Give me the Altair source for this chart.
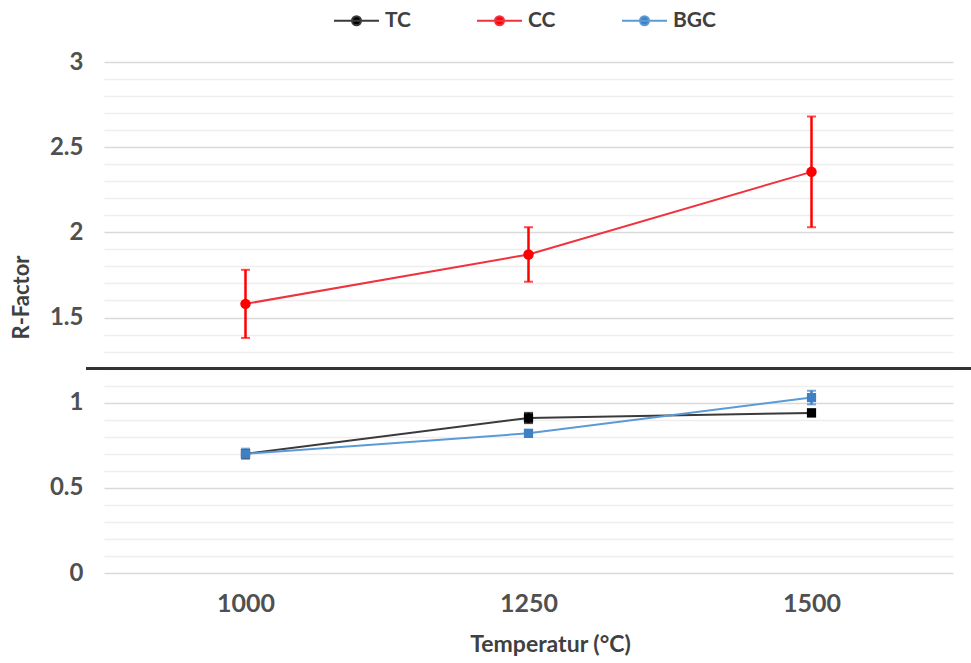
import altair as alt
import pandas as pd

temps = ["1000", "1250", "1500"]
series = ["TC", "CC", "BGC"]
tc_mean = [0.70, 0.91, 0.94]
tc_err = [0.02, 0.03, 0.02]
cc_mean = [1.58, 1.87, 2.355]
cc_err = [0.20, 0.16, 0.325]
bgc_mean = [0.70, 0.82, 1.03]
bgc_err = [0.03, 0.02, 0.04]
separator = [1.2]
grid_values = [round(i * 0.1, 1) for i in range(31)]

line_colors = ["#3a3a3a", "#f0323e", "#5b9bd5"]
point_colors = ["#000000", "#ff0000", "#3f7fc4"]

rows = []
for name, means, errs in zip(series, [tc_mean, cc_mean, bgc_mean], [tc_err, cc_err, bgc_err]):
    for t, m, e in zip(temps, means, errs):
        rows.append({"Temp": t, "Series": name, "R": m, "lo": m - e, "hi": m + e})
df = pd.DataFrame(rows)

W, H = 849, 511
FONT = "Lato"
is_major = "abs(datum.value * 2 - round(datum.value * 2)) < 0.001"

legend_path = "M-1,0H1M-0.2,0A0.2,0.2 0 1,0 0.2,0A0.2,0.2 0 1,0 -0.2,0Z"

def make_legend():
    return alt.Legend(
        title=None, orient="none", direction="horizontal",
        legendX=229, legendY=-65,
        symbolType=legend_path, symbolSize=2025, symbolStrokeWidth=2,
        labelFontSize=21, labelFont=FONT, labelFontWeight="bold",
        labelColor="#404040", columnPadding=62, labelOffset=5,
    )

x_axis = alt.Axis(
    title="Temperatur (°C)", labelAngle=0, ticks=False, domain=False, grid=False,
    labelPadding=18, labelFontSize=25, labelFont=FONT, labelFontWeight="bold",
    labelColor="#505050", titleFontSize=23, titleFont=FONT,
    titleFontWeight="bold", titleColor="#404040", titlePadding=17, titleX=446,
)
x_scale = alt.Scale(type="point", padding=0.5)
y_axis = alt.Axis(
    title="R-Factor", values=grid_values, ticks=False, domain=False,
    labelExpr=f"({is_major}) ? format(datum.value, '~g') : ''",
    gridColor={"condition": {"test": is_major, "value": "#d9d9d9"}, "value": "#eeeeee"},
    gridWidth=1.5,
    labelPadding=21, labelFontSize=24, labelFont=FONT, labelFontWeight="bold",
    labelColor="#505050", titleFontSize=22, titleFont=FONT,
    titleFontWeight="bold", titleColor="#404040",
    titleX=-83, titleY=235, titleBaseline="middle",
)
y_scale = alt.Scale(domain=[0, 3], nice=False)

def xe():
    return alt.X("Temp:O", sort=temps, scale=x_scale, axis=x_axis)

def ye(field):
    return alt.Y(field, scale=y_scale, axis=y_axis)

base = alt.Chart(df)

lines = base.mark_line(strokeWidth=2).encode(
    x=xe(), y=ye("R:Q"),
    stroke=alt.Stroke("Series:N", sort=series,
                      scale=alt.Scale(domain=series, range=line_colors),
                      legend=make_legend()),
)

err_color = alt.Color("Series:N", scale=alt.Scale(domain=series, range=point_colors), legend=None)

err_rules = base.mark_rule(strokeWidth=2.5).encode(
    x=xe(), y=ye("lo:Q"), y2="hi:Q", color=err_color,
)
err_lo = base.mark_tick(size=9, thickness=2).encode(
    x=xe(), y=ye("lo:Q"), color=err_color,
)
err_hi = base.mark_tick(size=9, thickness=2).encode(
    x=xe(), y=ye("hi:Q"), color=err_color,
)

fill_scale = alt.Scale(domain=series, range=point_colors)

circles = base.transform_filter(alt.datum.Series == "CC").mark_point(
    filled=True, size=110, opacity=1, shape="circle"
).encode(
    x=xe(), y=ye("R:Q"),
    fill=alt.Fill("Series:N", sort=series, scale=fill_scale, legend=make_legend()),
)

squares = base.transform_filter(alt.datum.Series != "CC").mark_point(
    filled=True, size=85, opacity=1, shape="square"
).encode(
    x=xe(), y=ye("R:Q"),
    fill=alt.Fill("Series:N", sort=series, scale=fill_scale, legend=None),
)

sep = alt.Chart(pd.DataFrame({"y": separator})).mark_rule(color="#333333", strokeWidth=3).encode(
    y=ye("y:Q"),
    x=alt.value(-18), x2=alt.value(W + 18),
)

chart = alt.layer(lines, err_rules, err_lo, err_hi, squares, circles, sep).properties(
    width=W, height=H,
    autosize=alt.AutoSizeParams(type="none"),
    padding={"left": 104, "top": 62, "right": 18, "bottom": 90},
    background="white",
).configure(font=FONT, view=alt.ViewConfig(stroke=None))

chart.save("out.html", embed_options={"renderer": "svg", "actions": False})
